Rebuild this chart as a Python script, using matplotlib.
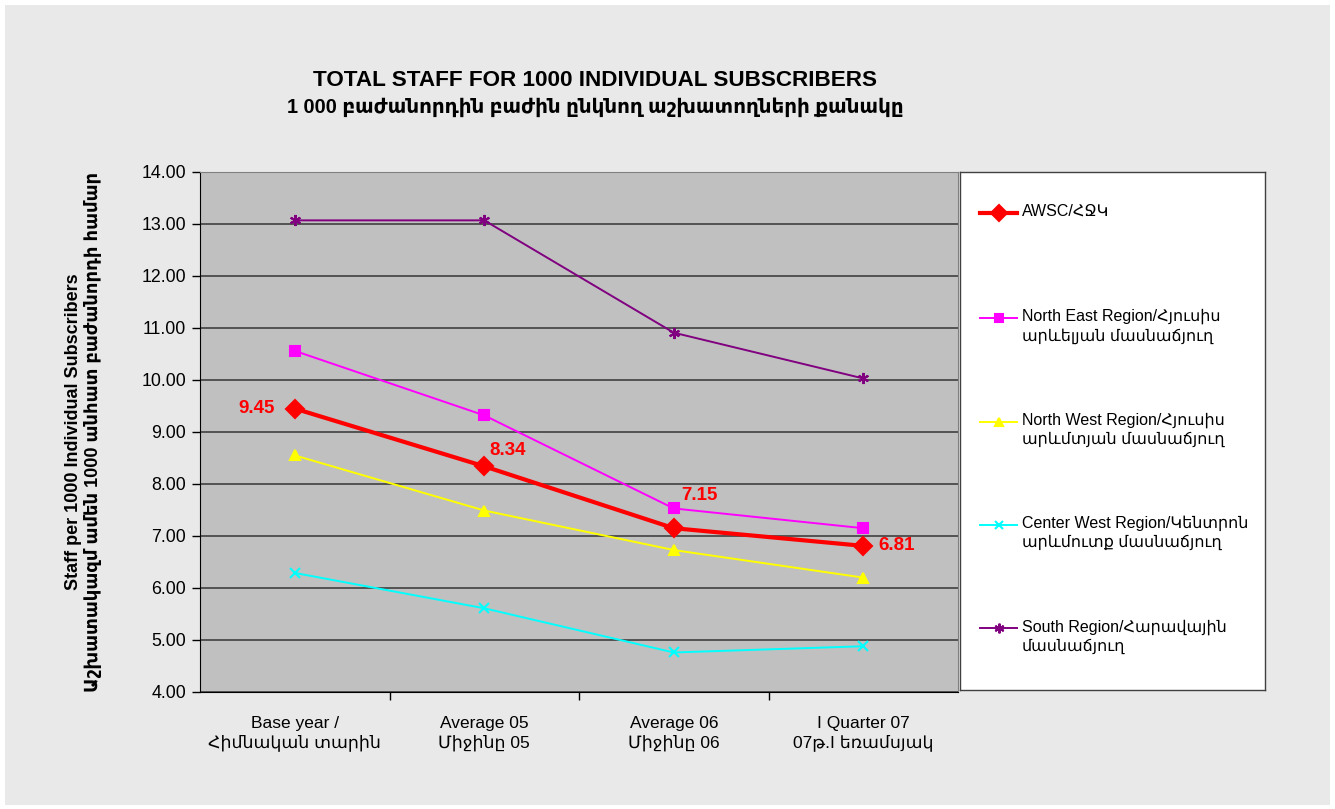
import matplotlib
matplotlib.use("Agg")
from matplotlib import pyplot as plt
from matplotlib.patches import Rectangle
from matplotlib.lines import Line2D

plt.rcParams['font.family'] = ['Liberation Sans', 'DejaVu Sans']

# data
periods = ['Base year /\nՀիմնական տարին', 'Average 05\nՄիջինը 05',
           'Average 06\nՄիջինը 06', 'I Quarter 07\n07թ.I եռամսյակ']
awsc = [9.45, 8.34, 7.15, 6.81]
north_east = [10.56, 9.32, 7.53, 7.15]
north_west = [8.55, 7.49, 6.73, 6.20]
center_west = [6.29, 5.61, 4.76, 4.88]
south = [13.07, 13.07, 10.91, 10.03]

names = ['AWSC/ՀՋԿ',
         'North East Region/Հյուսիս\nարևելյան մասնաճյուղ',
         'North West Region/Հյուսիս\nարևմտյան մասնաճյուղ',
         'Center West Region/Կենտրոն\nարևմուտք մասնաճյուղ',
         'South Region/Հարավային\nմասնաճյուղ']
colors = ['#FF0000', '#FF00FF', '#FFFF00', '#00FFFF', '#800080']
markers = ['D', 's', '^', 'x', (6, 2, 0)]
msizes = [9, 7, 7, 7, 8]
lwidths = [3, 1.4, 1.4, 1.4, 1.4]
series = [awsc, north_east, north_west, center_west, south]

fig = plt.figure(figsize=(13.35, 8.09), dpi=100)
fig.patch.set_facecolor('white')
fig.add_artist(Rectangle((5 / 1335, 4 / 809), 1325 / 1335, 800 / 809,
                         transform=fig.transFigure, facecolor='#E9E9E9',
                         edgecolor='none', zorder=0))

ax = fig.add_axes([200 / 1335, 117 / 809, 758 / 1335, 520 / 809])
ax.set_facecolor('#C0C0C0')
x = list(range(len(periods)))

# draw south first so AWSC sits on top
order = [4, 3, 2, 1, 0]
for i in order:
    ax.plot(x, series[i], color=colors[i], marker=markers[i], markersize=msizes[i],
            linewidth=lwidths[i], markeredgewidth=1.5, zorder=3 + (i == 0))

ax.set_xlim(-0.5, 3.5)
ax.set_ylim(4, 14)
ax.set_yticks(range(4, 15))
ax.set_yticklabels(['%.2f' % v for v in range(4, 15)], fontsize=12.8)
ax.grid(axis='y', color='#4A4A4A', linewidth=1.3)
ax.set_axisbelow(True)

ax.set_xticks(x)
ax.set_xticklabels(periods, fontsize=12.5, linespacing=1.3)
ax.set_xticks([0.5, 1.5, 2.5], minor=True)
ax.tick_params(axis='x', which='major', length=0, pad=17)
ax.tick_params(axis='x', which='minor', length=6, width=1, direction='out')
ax.tick_params(axis='y', length=6, width=1, direction='out', pad=4)
for s in ['top', 'right']:
    ax.spines[s].set_color('#808080')
for s in ['left', 'bottom']:
    ax.spines[s].set_color('black')

# value labels on the AWSC line
offsets = [(-20, 0, 'right'), (5, 16, 'left'), (8, 33, 'left'), (15, 0, 'left')]
for xi, v, (dx, dy, ha) in zip(x, awsc, offsets):
    ax.annotate('%.2f' % v, (xi, v), xytext=(dx, dy), textcoords='offset pixels',
                ha=ha, va='center', color='#FF0000', fontsize=13.5, fontweight='bold')

ax.set_ylabel('Staff per 1000 Individual Subscribers\nԱշխատակազմ ամեն 1000 անհատ բաժանորդի համար',
              fontsize=13, fontweight='bold', labelpad=28, linespacing=1.15)

fig.text(595 / 1335, 1 - 80 / 809, 'TOTAL STAFF FOR 1000 INDIVIDUAL SUBSCRIBERS',
         ha='center', va='center', fontsize=16.2, fontweight='bold')
fig.text(595 / 1335, 1 - 107 / 809, '1 000 բաժանորդին բաժին ընկնող աշխատողների քանակը',
         ha='center', va='center', fontsize=14.3, fontweight='bold')

# legend box
lax = fig.add_axes([960 / 1335, 119 / 809, 305 / 1335, 518 / 809])
lax.set_xlim(0, 305)
lax.set_ylim(518, 0)
lax.set_xticks([])
lax.set_yticks([])
lax.set_facecolor('white')
for s in lax.spines.values():
    s.set_color('#404040')
    s.set_linewidth(1)
entry_y = [41, 146, 250, 353, 456]
for i, ey in enumerate(entry_y):
    lax.add_line(Line2D([20, 57], [ey, ey], color=colors[i], linewidth=lwidths[i]))
    lax.add_line(Line2D([38.5], [ey], color=colors[i], marker=markers[i],
                        markersize=msizes[i] - 1, markeredgewidth=1.5, linestyle='none'))
    lax.text(62, ey - 9, names[i], fontsize=11.5, va='top', ha='left', linespacing=1.3)

fig.savefig('out.png', dpi=100, facecolor=fig.get_facecolor())
